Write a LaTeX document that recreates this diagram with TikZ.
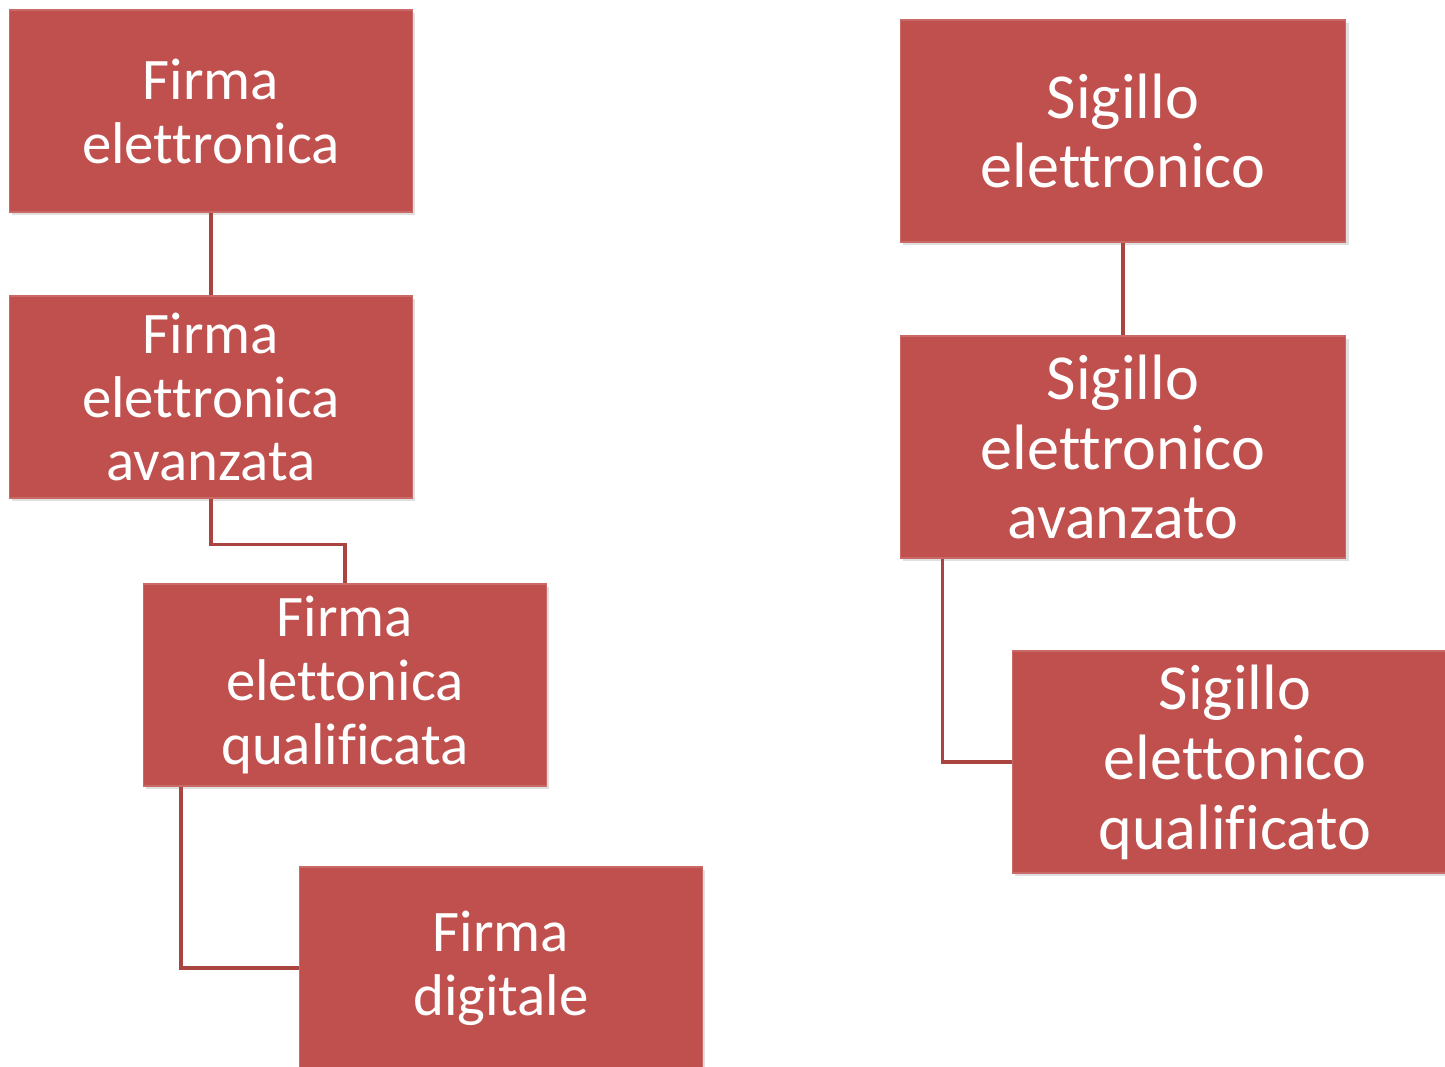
\documentclass[tikz,border=0pt]{standalone}
\usepackage{fontspec}
\setmainfont{Carlito}[Ligatures=NoCommon]
\usetikzlibrary{calc, shadows}
\definecolor{boxred}{HTML}{C0504D}
\definecolor{linkred}{HTML}{A94441}

\begin{document}
\begin{tikzpicture}[x=0.02cm, y=-0.02cm]
\tikzstyle{level}=[rectangle, fill=boxred, draw=boxred!85!white, line width=0.6pt, text=white,
  align=center, inner sep=0pt,
  drop shadow={shadow xshift=1.5pt, shadow yshift=-1.5pt, opacity=0.25}]
\tikzstyle{firma}=[level, minimum width=8.06cm, minimum height=4.04cm, font=\fontsize{33.5}{36.4}\selectfont]
\tikzstyle{sigillo}=[level, minimum width=8.92cm, minimum height=4.44cm, font=\fontsize{36.5}{39.8}\selectfont]
\tikzstyle{connect}=[draw=linkred, line width=2.2pt]
    \useasboundingbox (0,0) rectangle (1445,1067);
    % firma
    \node[firma] (fe)  at (211,111) {Firma\\elettronica};
    \node[firma] (fea) at (211,397) {Firma\\elettronica\\avanzata};
    \node[firma] (feq) at (345,685) {Firma\\elettonica\\qualificata};
    \node[firma] (fd)  at (501,968) {Firma\\digitale};
    % sigillo
    \node[sigillo] (se)  at (1123,131) {Sigillo\\elettronico};
    \node[sigillo] (sea) at (1123,447) {Sigillo\\elettronico\\avanzato};
    \node[sigillo] (seq) at (1235,762) {Sigillo\\elettonico\\qualificato};
    % links
    \path[connect] (fe.south) -- (fea.north);
    \path[connect] (fea.south) -- ++(0,46) -| (feq.north);
    \path[connect] ($(feq.south west)+(38,0)$) |- (fd.west);
    \path[connect] (se.south) -- (sea.north);
    \path[connect] ($(sea.south west)+(43,0)$) |- (seq.west);
\end{tikzpicture}
\end{document}
